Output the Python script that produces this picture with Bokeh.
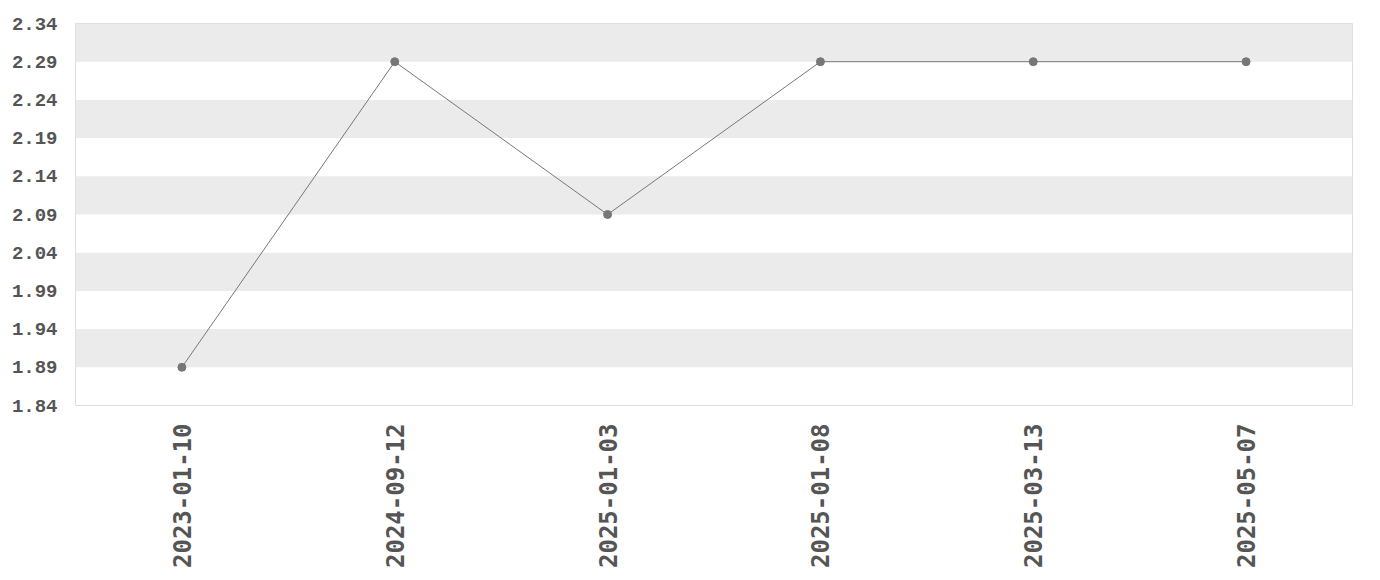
import math
from bokeh.plotting import figure
from bokeh.models import FixedTicker, FactorRange, Range1d
from bokeh.embed import file_html
from bokeh.resources import INLINE

dates = ["2023-01-10", "2024-09-12", "2025-01-03", "2025-01-08", "2025-03-13", "2025-05-07"]
values = [1.89, 2.29, 2.09, 2.29, 2.29, 2.29]
y_ticks = [1.84, 1.89, 1.94, 1.99, 2.04, 2.09, 2.14, 2.19, 2.24, 2.29, 2.34]

p = figure(width=1372, height=572, x_range=FactorRange(*dates, range_padding=0),
           y_range=Range1d(1.84, 2.34), output_backend="svg", toolbar_location=None,
           min_border_left=75, min_border_right=20, min_border_top=23, min_border_bottom=167)

p.line(dates, values, line_color="#777777", line_width=1)
p.scatter(dates, values, size=8, fill_color="#777777", line_color="#777777")

p.yaxis.ticker = FixedTicker(ticks=y_ticks)
p.yaxis.major_label_overrides = {t: f"{t:.2f}" for t in y_ticks}
for ax in (p.xaxis[0], p.yaxis[0]):
    ax.axis_line_color = None
    ax.major_tick_line_color = None
    ax.minor_tick_line_color = None
    ax.major_label_text_color = "#555555"
    ax.major_label_text_font_style = "bold"

p.yaxis.major_label_text_font = "Liberation Mono"
p.yaxis.major_label_text_font_size = "19px"
p.yaxis.major_label_standoff = 12

p.xaxis.major_label_text_font = "DejaVu Sans Mono"
p.xaxis.major_label_text_font_size = "24px"
p.xaxis.major_label_orientation = math.pi / 2
p.xaxis.major_label_standoff = 12

p.xgrid.grid_line_color = None
p.ygrid.grid_line_color = None
p.ygrid.band_fill_color = "#ebebeb"
p.ygrid.band_fill_alpha = 1.0

p.outline_line_color = "#dddddd"
p.outline_line_width = 1

open("out.html", "w").write(file_html(p, INLINE))
